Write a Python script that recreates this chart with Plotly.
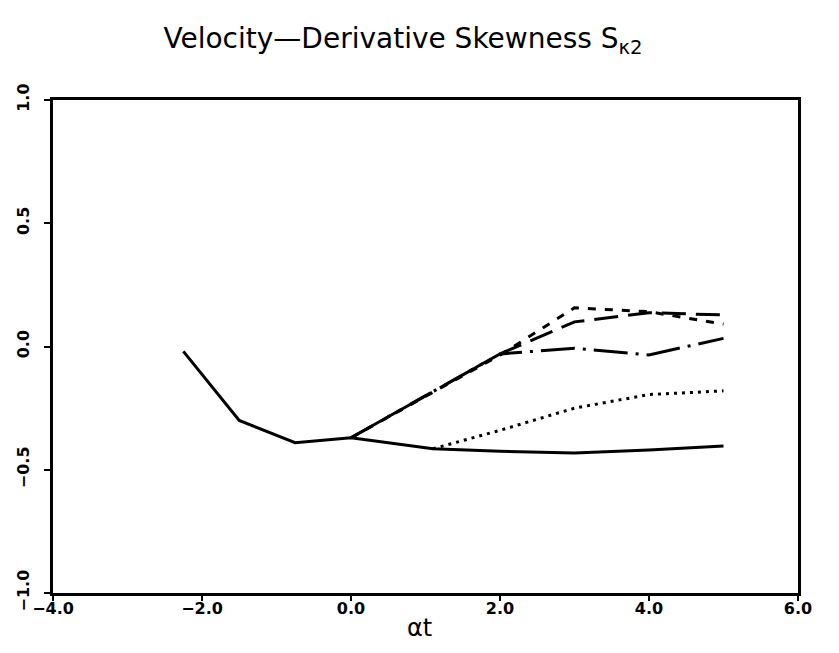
import plotly.graph_objects as go

# Data
base_x = [-2.25, -1.5, -0.75, 0.0, 1.1, 2.0, 3.0, 4.0, 5.0]
base_y = [-0.02, -0.30, -0.39, -0.37, -0.415, -0.425, -0.432, -0.42, -0.404]

dot_x = [1.1, 2.0, 3.0, 4.0, 5.0]
dot_y = [-0.415, -0.34, -0.25, -0.195, -0.18]

dashdot_x = [0.0, 2.0, 3.0, 4.0, 5.0]
dashdot_y = [-0.37, -0.03, -0.007, -0.034, 0.033]

longdash_x = [0.0, 2.0, 3.0, 4.0, 5.0]
longdash_y = [-0.37, -0.03, 0.10, 0.137, 0.128]

shortdash_x = [0.0, 2.0, 3.0, 4.0, 5.0]
shortdash_y = [-0.37, -0.035, 0.157, 0.141, 0.091]

x_ticks = [-4.0, -2.0, 0.0, 2.0, 4.0, 6.0]
y_ticks = [-1.0, -0.5, 0.0, 0.5, 1.0]

fig = go.Figure()
lw = 3
fig.add_trace(go.Scatter(x=shortdash_x, y=shortdash_y, mode="lines",
                         line=dict(color="black", width=lw, dash="8px,9px")))
fig.add_trace(go.Scatter(x=longdash_x, y=longdash_y, mode="lines",
                         line=dict(color="black", width=lw, dash="24px,10px")))
fig.add_trace(go.Scatter(x=dashdot_x, y=dashdot_y, mode="lines",
                         line=dict(color="black", width=lw, dash="34px,8px,3px,8px")))
fig.add_trace(go.Scatter(x=dot_x, y=dot_y, mode="lines",
                         line=dict(color="black", width=lw, dash="3px,5px")))
fig.add_trace(go.Scatter(x=base_x, y=base_y, mode="lines",
                         line=dict(color="black", width=lw)))

axis_common = dict(showline=True, linecolor="black", linewidth=3, mirror=True,
                   ticks="outside", tickwidth=2, tickcolor="black",
                   showgrid=False, zeroline=False, tickformat=".1f", automargin=False,
                   tickfont=dict(family="DejaVu Sans", size=16, color="black", weight="bold"))

fig.update_layout(
    width=823, height=637,
    margin=dict(l=45, r=33, t=92, b=52),
    paper_bgcolor="white", plot_bgcolor="white",
    showlegend=False,
    title=dict(text="Velocity\u2014Derivative Skewness S<sub>\u03ba2</sub>",
               x=0.48, xanchor="center", y=1 - 30 / 637, yanchor="middle",
               font=dict(family="DejaVu Sans", size=28, color="black")),
    xaxis=dict(range=[-4, 6], tickvals=x_ticks, ticklen=5, ticklabelstandoff=-6,
               **axis_common),
    yaxis=dict(range=[-1, 1], tickvals=y_ticks, tickangle=-90, ticklen=6,
               ticklabelstandoff=9, **axis_common),
    annotations=[dict(text="\u03b1t", xref="paper", yref="paper",
                      x=0.4926, y=-0.071, xanchor="center", yanchor="middle",
                      showarrow=False,
                      font=dict(family="DejaVu Sans", size=24, color="black"))],
)

fig.write_html("out.html")
